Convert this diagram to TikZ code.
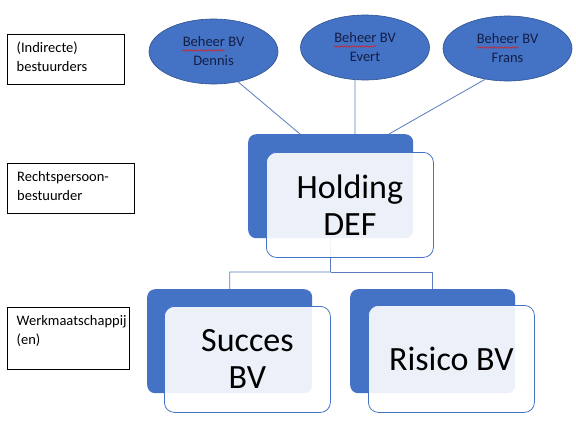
\documentclass[tikz,border=0pt]{standalone}
\usepackage{fontspec}
\setmainfont{Carlito}
\usetikzlibrary{shapes.geometric,decorations.pathmorphing}
\definecolor{accblue}{RGB}{68,114,196}
\definecolor{edgeblue}{RGB}{47,82,143}
\definecolor{navy}{RGB}{20,30,70}
\definecolor{lineblue}{RGB}{90,125,190}
\definecolor{squig}{RGB}{220,30,30}
\begin{document}
\begin{tikzpicture}[x=1pt,y=-1pt,
 labelbox/.style={draw=black, line width=0.8pt, anchor=north west, inner sep=0pt},
 labeltext/.style={anchor=north west, inner sep=0pt, align=left, font=\fontsize{14.5}{19}\selectfont, text=black},
 owner/.style={ellipse, fill=accblue, draw=edgeblue, line width=0.6pt, minimum width=129pt, minimum height=65pt, inner sep=0pt, align=center, font=\fontsize{14.5}{19}\selectfont, text=navy},
 backblk/.style={fill=accblue, rounded corners=8pt, anchor=north west, inner sep=0pt, minimum width=165pt, minimum height=104pt},
 frontblk/.style={fill=white, fill opacity=0.9, text opacity=1, draw=accblue, draw opacity=1, line width=0.8pt, rounded corners=10pt, anchor=north west, inner sep=0pt, align=center, font=\fontsize{34}{37}\selectfont, text=black},
 link/.style={draw=lineblue, line width=0.8pt},
 spell/.style={draw=squig, line width=0.5pt, decorate, decoration={snake, amplitude=0.7pt, segment length=2.5pt}}
]
\useasboundingbox (0,0) rectangle (576,426);
\fill[white] (0,0) rectangle (576,426);

% left label boxes
\node[labelbox, minimum width=117pt, minimum height=50pt] (b1) at (7,34) {};
\node[labeltext] (t1) at ([xshift=9.5pt,yshift=-8pt]b1.north west) {(Indirecte)\\bestuurders};
\node[labelbox, minimum width=127pt, minimum height=50pt] (b2) at (7,163) {};
\node[labeltext] (t2) at ([xshift=10pt,yshift=-8pt]b2.north west) {Rechtspersoon-\\bestuurder};
\node[labelbox, minimum width=122pt, minimum height=62pt] (b3) at (7,307) {};
\node[labeltext] (t3) at ([xshift=9.5pt,yshift=-8pt]b3.north west) {Werkmaatschappij\\(en)};

% owners
\node[owner] (dennis) at (213.5,51.5) {Beheer BV\\Dennis};
\node[owner] (evert) at (365,47.5) {Beheer BV\\Evert};
\node[owner] (frans) at (507.5,48.5) {Beheer BV\\Frans};
\draw[spell] ([xshift=-31pt,yshift=1pt]dennis.center) -- ([xshift=11pt,yshift=1pt]dennis.center);
\draw[spell] ([xshift=-31pt,yshift=1pt]evert.center) -- ([xshift=11pt,yshift=1pt]evert.center);
\draw[spell] ([xshift=-31pt,yshift=1pt]frans.center) -- ([xshift=11pt,yshift=1pt]frans.center);

% back blocks
\node[backblk] (hback) at (248,134) {};
\node[backblk] (sback) at (147,289) {};
\node[backblk] (rback) at (350,289) {};

% connectors
\draw[link] (dennis.-51) -- ([xshift=52pt]hback.north west);
\draw[link] (evert.-107) -- ([xshift=107pt]hback.north west);
\draw[link] (frans.-126) -- ([xshift=141pt]hback.north west);
\coordinate (split) at (330.5,272);
\draw[link] (hback.south) -- (split) -| (sback.north);
\draw[link] (split) -| (rback.north);

% front blocks
\node[frontblk, minimum width=167pt, minimum height=105pt] (hfront) at (266,152) {Holding\\DEF};
\node[frontblk, minimum width=166pt, minimum height=106pt] (sfront) at (164,306) {Succes\\BV};
\node[frontblk, minimum width=166pt, minimum height=107pt] (rfront) at (368,305) {Risico BV};
\end{tikzpicture}
\end{document}
